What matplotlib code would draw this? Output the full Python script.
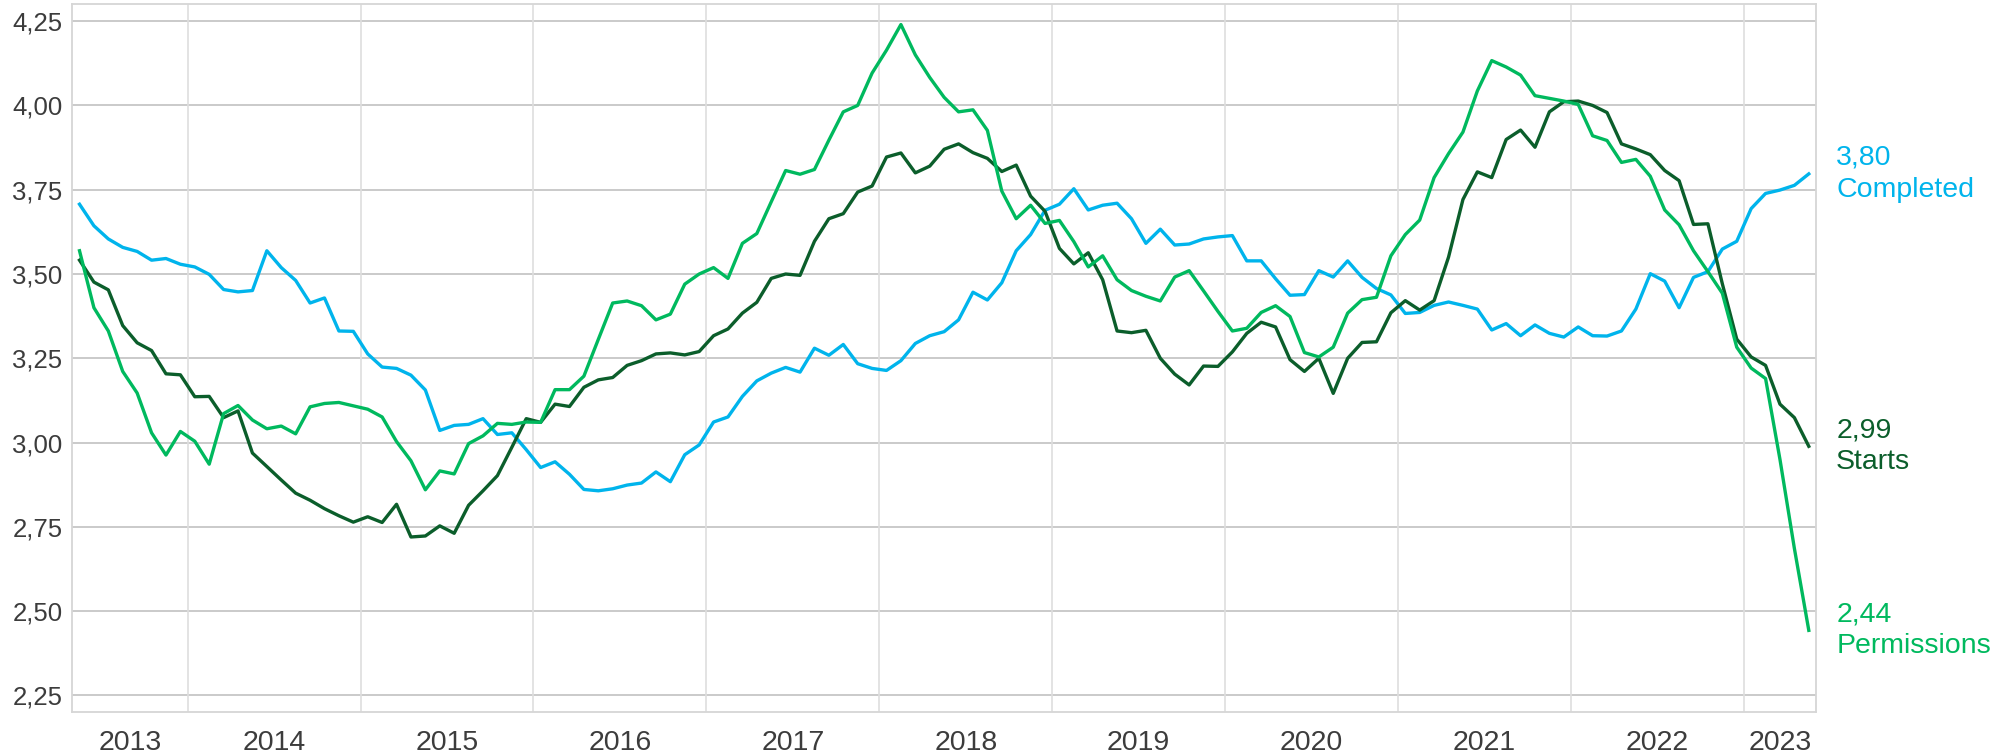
import matplotlib
matplotlib.use("Agg")
import matplotlib.pyplot as plt
from matplotlib.ticker import FixedLocator, FuncFormatter

plt.rcParams['font.family'] = ['Liberation Sans', 'DejaVu Sans']

# Monthly values, May 2013 .. May 2023
start_year = 2013
start_month = 5

completed = [3.707, 3.643, 3.604, 3.579, 3.567, 3.541, 3.546, 3.529, 3.521, 3.499,
             3.454, 3.447, 3.451, 3.569, 3.519, 3.481, 3.414, 3.429, 3.331, 3.330,
             3.263, 3.224, 3.220, 3.200, 3.156, 3.036, 3.051, 3.054, 3.071, 3.024,
             3.029, 2.979, 2.926, 2.943, 2.906, 2.861, 2.857, 2.863, 2.874, 2.880,
             2.913, 2.884, 2.964, 2.993, 3.061, 3.076, 3.137, 3.183, 3.206, 3.223,
             3.209, 3.280, 3.259, 3.291, 3.234, 3.220, 3.214, 3.243, 3.294, 3.317,
             3.329, 3.364, 3.446, 3.423, 3.474, 3.569, 3.617, 3.689, 3.707, 3.753,
             3.690, 3.704, 3.710, 3.664, 3.591, 3.633, 3.586, 3.589, 3.604, 3.610,
             3.614, 3.539, 3.539, 3.486, 3.437, 3.439, 3.510, 3.491, 3.539, 3.490,
             3.457, 3.438, 3.383, 3.386, 3.407, 3.417, 3.407, 3.396, 3.334, 3.353,
             3.317, 3.349, 3.324, 3.313, 3.343, 3.317, 3.316, 3.331, 3.396, 3.501,
             3.479, 3.400, 3.490, 3.507, 3.574, 3.597, 3.694, 3.739, 3.749, 3.763,
             3.797]

starts = [3.541, 3.476, 3.453, 3.347, 3.296, 3.273, 3.204, 3.201, 3.136, 3.137,
          3.074, 3.094, 2.969, 2.929, 2.889, 2.850, 2.829, 2.804, 2.783, 2.764,
          2.780, 2.763, 2.817, 2.720, 2.723, 2.753, 2.731, 2.814, 2.857, 2.902,
          2.986, 3.071, 3.060, 3.114, 3.107, 3.164, 3.186, 3.193, 3.229, 3.243,
          3.263, 3.266, 3.260, 3.270, 3.317, 3.337, 3.384, 3.416, 3.487, 3.500,
          3.496, 3.597, 3.664, 3.679, 3.743, 3.761, 3.847, 3.859, 3.800, 3.820,
          3.870, 3.886, 3.860, 3.843, 3.804, 3.823, 3.731, 3.686, 3.576, 3.530,
          3.563, 3.483, 3.331, 3.326, 3.333, 3.250, 3.203, 3.171, 3.227, 3.226,
          3.269, 3.324, 3.357, 3.343, 3.246, 3.211, 3.250, 3.146, 3.250, 3.297,
          3.299, 3.385, 3.421, 3.393, 3.421, 3.550, 3.721, 3.803, 3.786, 3.899,
          3.927, 3.876, 3.981, 4.011, 4.013, 4.000, 3.979, 3.886, 3.871, 3.854,
          3.807, 3.777, 3.647, 3.649, 3.471, 3.307, 3.254, 3.229, 3.114, 3.074,
          2.989]

permissions = [3.569, 3.400, 3.331, 3.211, 3.147, 3.029, 2.963, 3.033, 3.004, 2.936,
               3.086, 3.110, 3.067, 3.041, 3.049, 3.026, 3.106, 3.116, 3.119, 3.109,
               3.099, 3.076, 3.003, 2.946, 2.860, 2.916, 2.907, 2.997, 3.020, 3.057,
               3.054, 3.061, 3.060, 3.157, 3.157, 3.197, 3.306, 3.414, 3.420, 3.406,
               3.364, 3.381, 3.470, 3.500, 3.519, 3.487, 3.591, 3.620, 3.714, 3.807,
               3.796, 3.810, 3.897, 3.981, 4.000, 4.096, 4.164, 4.240, 4.150, 4.083,
               4.024, 3.981, 3.987, 3.926, 3.746, 3.664, 3.704, 3.650, 3.659, 3.596,
               3.521, 3.554, 3.483, 3.451, 3.434, 3.420, 3.491, 3.510, 3.450, 3.389,
               3.331, 3.339, 3.386, 3.406, 3.374, 3.267, 3.254, 3.283, 3.384, 3.424,
               3.431, 3.554, 3.617, 3.660, 3.786, 3.857, 3.921, 4.043, 4.133, 4.114,
               4.090, 4.029, 4.021, 4.013, 4.003, 3.910, 3.896, 3.831, 3.840, 3.790,
               3.690, 3.646, 3.569, 3.507, 3.443, 3.283, 3.221, 3.190, 2.950, 2.686,
               2.443]

series_names = ["Completed", "Starts", "Permissions"]
series_values = [completed, starts, permissions]
series_colors = ["#00B4EC", "#0B5E2B", "#00B95E"]

year_labels = [str(y) for y in range(2013, 2024)]
y_ticks = [2.25, 2.50, 2.75, 3.00, 3.25, 3.50, 3.75, 4.00, 4.25]

n = len(completed)
x = [start_year + (start_month - 1 + i + 0.5) / 12 for i in range(n)]

W, H = 2003, 754
fig = plt.figure(figsize=(W / 100, H / 100), dpi=100)
left, right, top, bottom = 72.3, 1816, 4.3, 712.3
ax = fig.add_axes([left / W, 1 - bottom / H, (right - left) / W, (bottom - top) / H])

x0 = start_year + (start_month - 1) / 12
ax.set_xlim(x0, 2023 + 5 / 12)
ax.set_ylim(2.20, 4.30)

# gridlines
for yv in y_ticks:
    ax.axhline(yv, color="#C6C6C6", lw=1.3, zorder=1)
for yr in range(2014, 2024):
    ax.axvline(yr, color="#DEDEDE", lw=1.2, zorder=1)

for name, vals, col in zip(series_names, series_values, series_colors):
    ax.plot(x, vals, color=col, lw=2.4, zorder=3, solid_joinstyle='round')
    label = f"{vals[-1]:.2f}".replace(".", ",") + "\n" + name
    ax.annotate(label, xy=(1, vals[-1]), xycoords=('axes fraction', 'data'),
                xytext=(14.5, 0), textcoords='offset points', ha='left', va='center',
                color=col, fontsize=20.5, linespacing=1.3, annotation_clip=False)

# ticks
ax.yaxis.set_major_locator(FixedLocator(y_ticks))
ax.yaxis.set_major_formatter(FuncFormatter(lambda v, p: f"{v:.2f}".replace(".", ",")))
ax.tick_params(axis='y', length=0, pad=7, labelsize=18.5, labelcolor="#3C3C3C")

ax.xaxis.set_major_locator(FixedLocator(list(range(2014, 2024))))
ax.xaxis.set_major_formatter(FuncFormatter(lambda v, p: ""))
lo, hi = ax.get_xlim()
label_pos = []
for yr in range(2013, 2024):
    a = max(yr, lo)
    b = min(yr + 1, hi)
    label_pos.append((a + b) / 2)
ax.set_xticks(label_pos, minor=True)
ax.set_xticklabels(year_labels, minor=True)
ax.tick_params(axis='x', which='both', length=0, pad=13, labelsize=20.5, labelcolor="#3C3C3C")

for s in ax.spines.values():
    s.set_color("#D6D6D6")
    s.set_linewidth(1.3)

fig.savefig("out.png", dpi=100, facecolor="white")
